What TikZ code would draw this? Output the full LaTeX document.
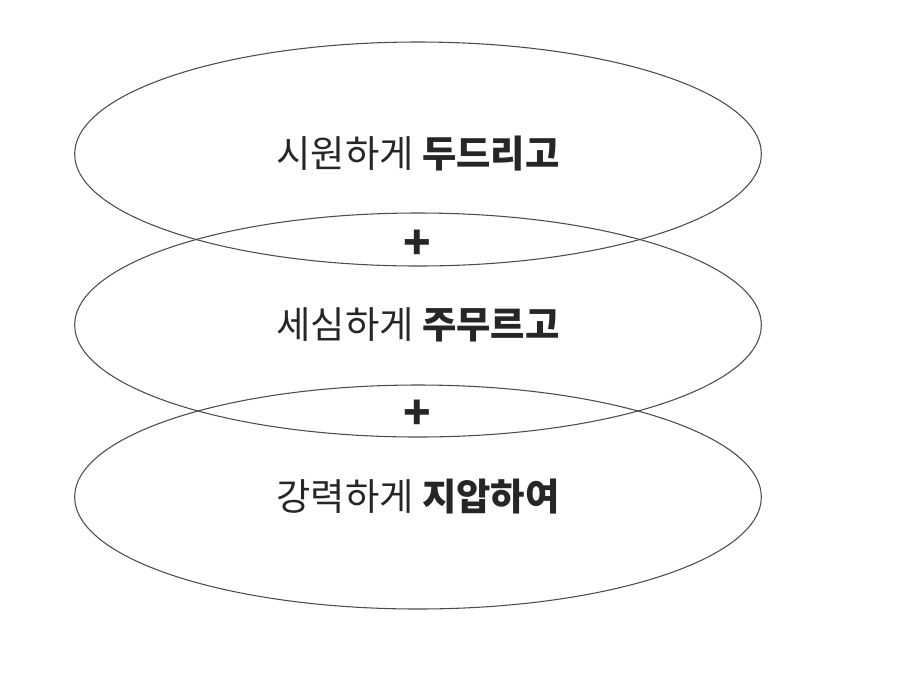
\documentclass[tikz,border=0pt]{standalone}
\usepackage{fontspec}
\setmainfont{Noto Sans CJK KR}
\usetikzlibrary{shapes.geometric}

\begin{document}
\begin{tikzpicture}[x=0.75pt, y=-0.75pt,
	every node/.style={font=\fontsize{28pt}{33pt}\selectfont, text=black!85},
	layer/.style={draw=black!70, line width=0.8pt, ellipse, inner sep=0pt, minimum width=515pt, minimum height=168pt},
	plus/.style={font=\fontsize{34pt}{38pt}\selectfont\bfseries}]
	\useasboundingbox (0,0) rectangle (907,683);
	\node[layer] (tap) at (418,154) {시원하게 \textbf{두드리고}};
	\node[layer] (knead) at (418,325) {세심하게 \textbf{주무르고}};
	\node[layer] (press) at (418,497) {강력하게 \textbf{지압하여}};
	\node[plus] (p1) at (417,245) {+};
	\node[plus] (p2) at (417,415) {+};
\end{tikzpicture}
\end{document}
